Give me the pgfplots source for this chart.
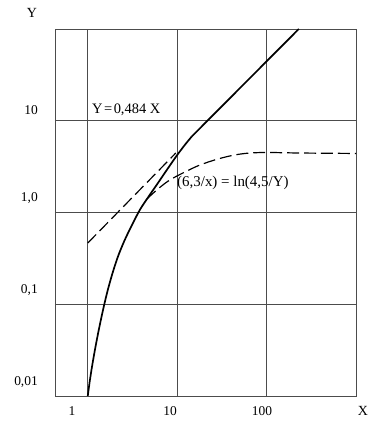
\documentclass[border=0pt]{standalone}
\usepackage{fontspec}
\setmainfont{Liberation Serif}
\usepackage{pgfplots}
\pgfplotsset{compat=1.18}
\begin{document}
\begin{tikzpicture}
\useasboundingbox (0,0) rectangle (382bp,423bp);
\begin{axis}[
  at={(55bp,27bp)}, anchor=south west,
  scale only axis, width=301bp, height=367bp,
  xmode=log, ymode=log,
  xmin=0.43, xmax=1000, ymin=0.01, ymax=100,
  xtick={1,10,100}, ytick={0.1,1,10},
  xticklabels={,,}, yticklabels={,,},
  xminorticks=false, yminorticks=false,
  tick style={draw=none},
  grid=major,
  major grid style={black!70, line width=0.6pt},
  axis line style={black!70, line width=0.7pt},
]
% solid curve and line Y = 0,484 X
\addplot[black, line width=1.7pt, smooth, tension=0.5] coordinates {
 (1.000,0.0100) (1.053,0.01457) (1.123,0.02177) (1.213,0.03336) (1.327,0.05240)
 (1.472,0.08440) (1.652,0.1360) (1.879,0.2137) (2.166,0.3273) (2.561,0.4891)
 (3.083,0.7127) (3.817,1.065) (4.751,1.475) (5.990,2.045) (7.649,2.905)
 (9.822,4.129) (12.16,5.441) (14.56,6.74)};
\addplot[black, line width=1.7pt] coordinates {(14.56,6.74) (229.1,100)};
% dashed extension of the line
\addplot[black, line width=1.2pt, dash pattern=on 12pt off 5pt] coordinates {
 (1.0,0.465) (9.65,4.45)};
% dashed curve (6,3/x) = ln(4,5/Y)
\addplot[black, line width=1.2pt, dash pattern=on 12pt off 5pt, smooth, tension=0.5] coordinates {
 (4.57,1.40) (6.07,1.80) (8.26,2.26) (12.16,2.76) (17.9,3.29) (28.5,3.83)
 (44.1,4.24) (64.9,4.45) (103,4.51) (235,4.45) (1000,4.40)};
\end{axis}
\begin{scope}[every node/.style={inner sep=0pt, font=\fontsize{13.5}{15}\selectfont}]
\node at (32bp,410bp) {\fontsize{14}{16}\selectfont Y};
\node at (363bp,12bp) {\fontsize{14}{16}\selectfont X};
\node at (72bp,12bp) {1};
\node at (170bp,12bp) {10};
\node at (262bp,12bp) {100};
\node[anchor=east] at (38bp,313bp) {10};
\node[anchor=east] at (38bp,225bp) {1,0};
\node[anchor=east] at (38bp,133bp) {0,1};
\node[anchor=east] at (38bp,41bp) {0,01};
\node[anchor=west] at (92bp,313bp) {\fontsize{14.5}{16}\selectfont Y\kern1.5pt=\kern1.5pt0,484 X};
\node[anchor=west] at (177bp,240bp) {\fontsize{15}{17}\selectfont (6,3/x) = ln(4,5/Y)};
\end{scope}
\end{tikzpicture}
\end{document}
